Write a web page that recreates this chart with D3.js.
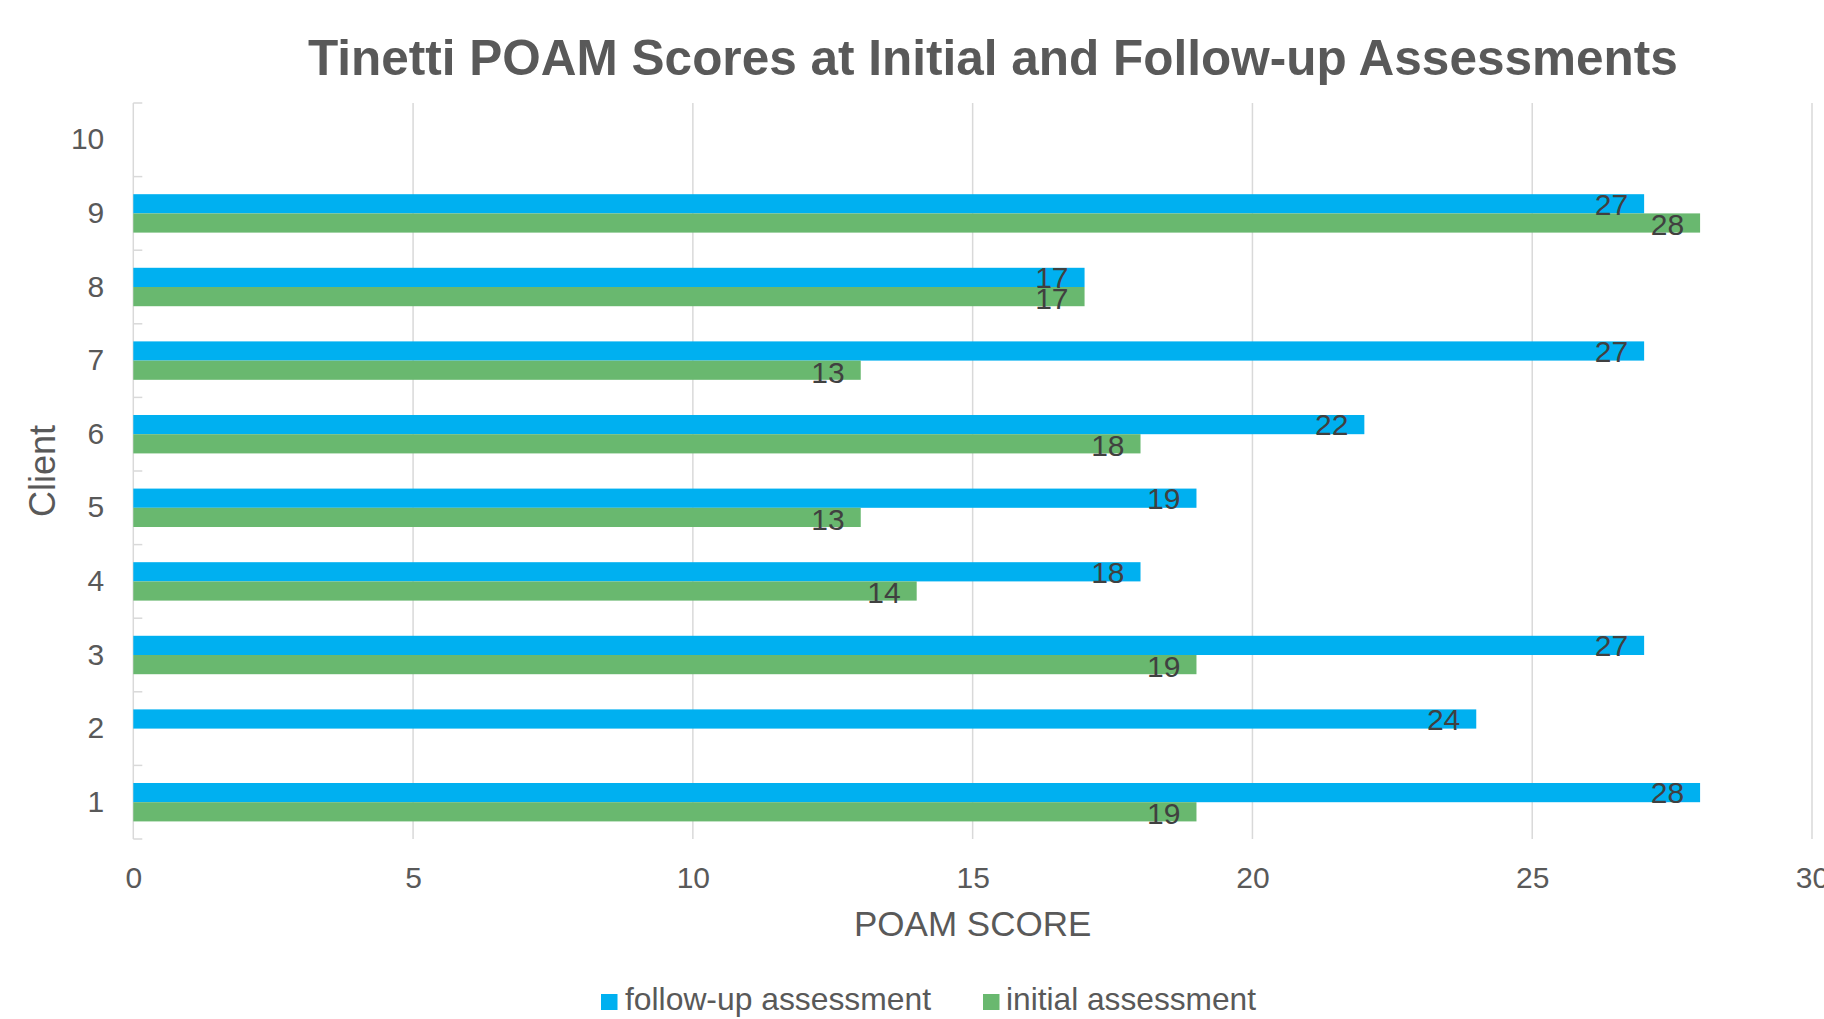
<!DOCTYPE html>
<html>
<head>
<meta charset="utf-8">
<script src="https://cdn.jsdelivr.net/npm/d3@7"></script>
<style>
body { margin: 0; background: #fff; }
text { font-family: "Liberation Sans", Arial, sans-serif; }
</style>
</head>
<body>
<svg width="1824" height="1019"></svg>
<script>
const clients = ["1", "2", "3", "4", "5", "6", "7", "8", "9", "10"];
const followUp = [28, 24, 27, 18, 19, 22, 27, 17, 27, null];
const initial = [19, null, 19, 14, 13, 18, 13, 17, 28, null];
const seriesNames = ["follow-up assessment", "initial assessment"];
const seriesColors = ["#00b0f0", "#69b86f"];
const xTicks = [0, 5, 10, 15, 20, 25, 30];

const svg = d3.select("svg");
const margin = { top: 103, right: 12, bottom: 180, left: 133.3 };
const width = Number(svg.attr("width")) - margin.left - margin.right;
const height = Number(svg.attr("height")) - margin.top - margin.bottom;
const g = svg.append("g")
    .attr("transform", `translate(${margin.left},${margin.top})`);

const xScale = d3.scaleLinear()
    .domain([0, 30])
    .range([0, width]);

// カテゴリは下から上へ
const yScale = d3.scaleBand()
    .domain(clients)
    .range([height, 0])
    .paddingInner(0.478)
    .paddingOuter(0.239);
const subScale = d3.scaleBand()
    .domain([0, 1])
    .range([0, yScale.bandwidth()]);

// グリッド線
g.append("g")
    .selectAll("line")
    .data(xTicks.filter(d => d > 0))
    .join("line")
    .attr("x1", d => xScale(d))
    .attr("x2", d => xScale(d))
    .attr("y1", 0)
    .attr("y2", height)
    .attr("stroke", "#d9d9d9")
    .attr("stroke-width", 1.5);

// x軸ラベル
g.append("g")
    .attr("class", "axis axis--x")
    .attr("transform", `translate(0, ${height})`)
    .call(d3.axisBottom(xScale).tickValues(xTicks).tickSize(0).tickPadding(28))
    .call(a => a.select(".domain").remove())
    .call(a => a.selectAll("text")
        .attr("font-size", 30)
        .attr("fill", "#595959")
        .attr("font-family", "Liberation Sans, Arial, sans-serif"));

// y軸
g.append("g")
    .attr("class", "axis axis--y")
    .call(d3.axisLeft(yScale).tickSize(0).tickPadding(29))
    .call(a => a.select(".domain").remove())
    .call(a => a.selectAll("text")
        .attr("font-size", 30)
        .attr("fill", "#595959")
        .attr("font-family", "Liberation Sans, Arial, sans-serif"));

g.append("line")
    .attr("x1", 0).attr("x2", 0)
    .attr("y1", 0).attr("y2", height)
    .attr("stroke", "#d9d9d9")
    .attr("stroke-width", 1.5);

const step = yScale.step();
const boundaries = clients.map(c => yScale(c) + yScale.bandwidth() + (step - yScale.bandwidth()) / 2);
boundaries.push(yScale("10") - (step - yScale.bandwidth()) / 2);
g.append("g")
    .selectAll("line")
    .data(boundaries)
    .join("line")
    .attr("x1", 0)
    .attr("x2", 9)
    .attr("y1", d => d)
    .attr("y2", d => d)
    .attr("stroke", "#d9d9d9")
    .attr("stroke-width", 1.5);

// 棒グラフ
const rows = [];
clients.forEach((c, i) => {
    [followUp[i], initial[i]].forEach((v, s) => {
        if (v != null) rows.push({ client: c, s: s, value: v });
    });
});

g.append("g")
    .selectAll("rect")
    .data(rows)
    .join("rect")
    .attr("x", 0)
    .attr("y", d => yScale(d.client) + subScale(d.s))
    .attr("width", d => xScale(d.value))
    .attr("height", subScale.bandwidth())
    .attr("fill", d => seriesColors[d.s]);

g.append("g")
    .selectAll("text")
    .data(rows)
    .join("text")
    .attr("x", d => xScale(d.value) - 16)
    .attr("y", d => yScale(d.client) + subScale(d.s) + subScale.bandwidth() / 2 + (d.s === 1 ? 1.5 : 0))
    .attr("dy", "0.36em")
    .attr("text-anchor", "end")
    .attr("font-size", 30)
    .attr("fill", "#404040")
    .text(d => d.value);

// タイトル
svg.append("text")
    .attr("x", 308)
    .attr("y", 75)
    .attr("font-size", 49.5)
    .attr("font-weight", "bold")
    .attr("fill", "#595959")
    .text("Tinetti POAM Scores at Initial and Follow-up Assessments");

svg.append("text")
    .attr("x", margin.left + width / 2)
    .attr("y", 935.7)
    .attr("text-anchor", "middle")
    .attr("font-size", 35)
    .attr("fill", "#595959")
    .text("POAM SCORE");

svg.append("text")
    .attr("transform", `translate(55, ${margin.top + height / 2}) rotate(-90)`)
    .attr("text-anchor", "middle")
    .attr("font-size", 36)
    .attr("fill", "#595959")
    .text("Client");

// 凡例
const legend = [
    { sx: 601, tx: 625, tw: 306 },
    { sx: 983, tx: 1006, tw: 250 },
];
legend.forEach((l, i) => {
    svg.append("rect")
        .attr("x", l.sx)
        .attr("y", 994)
        .attr("width", 16.5)
        .attr("height", 16)
        .attr("fill", seriesColors[i]);
    svg.append("text")
        .attr("x", l.tx)
        .attr("y", 1010)
        .attr("font-size", 31.5)
        .attr("fill", "#595959")
        .attr("textLength", l.tw)
        .attr("lengthAdjust", "spacingAndGlyphs")
        .text(seriesNames[i]);
});
</script>
</body>
</html>
